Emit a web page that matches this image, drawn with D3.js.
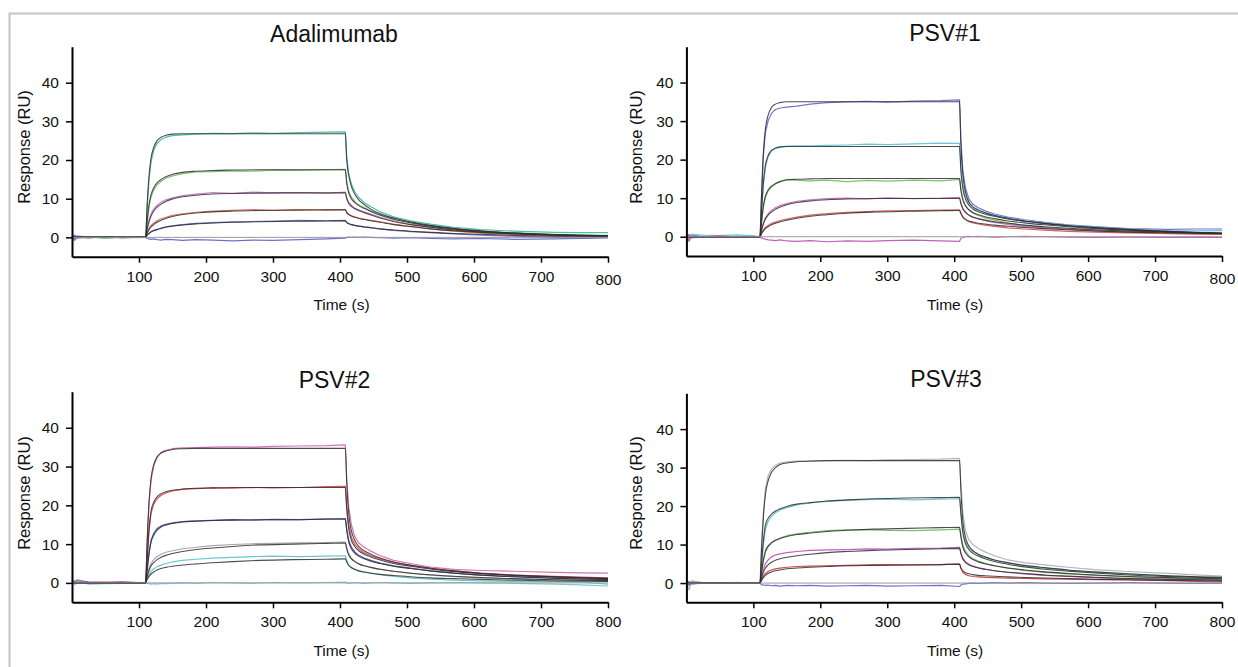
<!DOCTYPE html>
<html><head><meta charset="utf-8">
<script src="https://cdn.jsdelivr.net/npm/d3@7"></script>
<style>
body{margin:0;background:#fff}
svg{display:block}
text{font-family:"Liberation Sans",Arial,Helvetica,sans-serif;fill:#111}
</style>
</head><body>
<svg id="chart" width="1238" height="667"></svg>
<script>
// ---------- data ----------
const fitTimes = [0,110, 112,115,118,122,127,133,140,150,165,185,210,240,280,330,380,408,
  410,413,417,422,428,436,446,460,480,505,535,570,610,660,720,800];
const expTimes = [0,4,8,25,50,75,100,110, 112,115,118,122,127,133,140,150,165,185,210,240,270,300,340,380,408,
  410,413,417,422,428,436,446,460,480,505,535,570,610,660,720,760,800];
const xTickValues = [100,200,300,400,500,600,700,800];
const yTickValues = [0,10,20,30,40];
const panelTitles = ["Adalimumab","PSV#1","PSV#2","PSV#3"];
const xAxisTitle = "Time (s)";
const yAxisTitle = "Response (RU)";

const adaFit = [
 [0,0, 8,16,20.5,23.3,25,25.9,26.4,26.7,26.8,26.8,26.8,26.8,26.8,26.8,26.8,26.8, 20,16,13.2,11.2,9.7,8.5,7.3,6.1,5.0,4.0,3.1,2.3,1.7,1.1,0.7,0.4],
 [0,0, 4,8.5,11,12.8,14.1,15,15.7,16.3,16.8,17.1,17.3,17.4,17.5,17.5,17.5,17.5, 14,11.5,10,9.0,8.2,7.5,6.7,5.7,4.7,3.8,2.9,2.2,1.6,1.1,0.7,0.4],
 [0,0, 2,4,5.5,6.8,7.8,8.6,9.3,9.9,10.5,10.9,11.2,11.35,11.45,11.5,11.5,11.5, 10.0,8.8,8.0,7.4,6.9,6.4,5.8,5.0,4.1,3.3,2.6,1.9,1.4,1.0,0.6,0.4],
 [0,0, 1,2,2.7,3.3,3.9,4.4,4.9,5.4,5.9,6.3,6.6,6.8,6.95,7.05,7.1,7.1, 6.4,5.9,5.5,5.2,4.9,4.6,4.3,3.9,3.3,2.8,2.2,1.7,1.3,0.9,0.6,0.3],
 [0,0, 0.5,1.0,1.4,1.7,2.0,2.3,2.6,2.9,3.2,3.5,3.7,3.9,4.05,4.15,4.25,4.3, 3.8,3.5,3.3,3.1,2.9,2.7,2.5,2.2,1.9,1.6,1.3,1.0,0.8,0.5,0.3,0.2],
 [0,0, 0,0,0,0,0,0,0,0,0,0,0,0,0,0,0,0, 0,0,0,0,0,0,0,0,0,0,0,0,0,0,0,0]
];
const adaExp = [
 [0.3,-0.6,0.4,0.1,-0.2,0.1,0,0, 7,15,19.5,22.5,24.3,25.3,25.9,26.3,26.5,26.7,26.9,26.8,27.0,26.9,27.1,27.2,27.3, 21,16.5,13.8,11.8,10.3,9.0,7.9,6.6,5.3,4.3,3.4,2.6,2.0,1.6,1.3,1.2,1.2],
 [-0.4,0.5,-0.2,0.2,-0.3,0.1,-0.1,0, 3.5,8,10.5,12.3,13.6,14.5,15.3,15.9,16.5,16.9,17.0,17.2,17.1,17.4,17.3,17.5,17.6, 14.5,12,10.4,9.3,8.4,7.7,6.9,5.9,4.9,3.9,3.0,2.3,1.7,1.2,0.8,0.6,0.5],
 [0.2,-0.3,0.1,-0.2,0.2,0,0.1,0, 2.3,4.5,6.1,7.3,8.3,9.1,9.7,10.2,10.8,11.2,11.6,11.4,11.7,11.5,11.6,11.4,11.7, 10.3,9.1,8.3,7.6,7.1,6.6,6.0,5.2,4.3,3.4,2.7,2.0,1.4,0.9,0.5,0.3,0.2],
 [0.1,0.3,-0.2,0.1,0,-0.1,0.1,0, 1.3,2.4,3.1,3.7,4.3,4.8,5.2,5.7,6.1,6.5,6.8,7.0,7.2,7.0,7.2,7.1,7.2, 6.6,6.0,5.6,5.3,5.0,4.7,4.4,4.0,3.4,2.8,2.2,1.6,1.1,0.7,0.3,0.1,0.1],
 [-0.3,0.6,0,-0.1,0.2,-0.1,0,0, 0.6,1.1,1.5,1.8,2.1,2.4,2.7,3.0,3.3,3.6,3.8,4.0,4.1,4.2,4.4,4.3,4.4, 3.9,3.6,3.3,3.1,2.9,2.7,2.5,2.2,1.8,1.5,1.2,0.9,0.6,0.3,0.0,-0.2,-0.1],
 [0.4,-0.8,0.2,0,0.1,-0.1,0,0, -0.3,-0.4,-0.5,-0.4,-0.6,-0.7,-0.5,-0.6,-0.8,-0.6,-0.7,-0.9,-0.7,-0.8,-0.6,-0.4,-0.2, 0,0.1,0,0.1,0,0.1,0,-0.1,-0.2,-0.1,-0.3,-0.4,-0.3,-0.5,-0.4,-0.3,-0.1]
];
const adaColors = ["#4dbfae","#7fc46e","#cf7fcc","#e27a60","#7474cc","#7070cc"];

const psv1Fit = [
 [0,0, 10,22,28,31.5,33.5,34.4,34.8,35,35,35,35,35,35,35,35,35, 24,16,11.5,9.0,7.7,6.9,6.2,5.5,4.8,4.1,3.5,2.9,2.4,1.9,1.4,0.9],
 [0,0, 6,14,18.5,21,22.4,23.0,23.3,23.4,23.4,23.4,23.4,23.4,23.4,23.4,23.4,23.4, 17,12.5,9.8,8.2,7.2,6.5,5.9,5.3,4.6,4.0,3.4,2.8,2.3,1.8,1.3,0.9],
 [0,0, 3.5,8,10.5,12.1,13.1,13.8,14.3,14.7,14.9,15.0,15.1,15.1,15.1,15.1,15.1,15.1, 12,9.5,8.0,7.0,6.3,5.7,5.2,4.7,4.1,3.6,3.1,2.6,2.1,1.7,1.3,0.9],
 [0,0, 1.5,3.3,4.6,5.6,6.4,7.1,7.7,8.3,8.9,9.3,9.6,9.8,9.9,9.9,9.9,9.9, 8.6,7.2,6.3,5.6,5.1,4.7,4.3,3.9,3.5,3.0,2.6,2.2,1.8,1.5,1.2,0.9],
 [0,0, 0.7,1.5,2.1,2.6,3.1,3.5,3.9,4.3,4.8,5.3,5.7,6.1,6.4,6.6,6.75,6.8, 6.0,5.1,4.5,4.1,3.8,3.5,3.3,3.0,2.7,2.4,2.1,1.8,1.5,1.2,1.0,0.8],
 [0,0, 0,0,0,0,0,0,0,0,0,0,0,0,0,0,0,0, 0,0,0,0,0,0,0,0,0,0,0,0,0,0,0,0]
];
const psv1Exp = [
 [0.3,-1.2,0.5,0,-0.2,0.1,0,0, 9,21,27,30,32,33,33.4,33.6,33.9,34.4,34.8,35.0,35.1,34.9,35.2,35.3,35.5, 25,17,12.5,9.8,8.4,7.5,6.7,5.9,5.1,4.4,3.7,3.1,2.6,2.1,1.9,2.0,2.0],
 [0.5,0.2,0.6,0.4,0.3,0.5,0.2,0, 5.5,13.5,18,20.7,22.2,22.9,23.2,23.5,23.6,23.6,23.7,23.8,24.0,23.9,24.1,24.3,24.2, 18,13.5,10.5,8.8,7.8,7.0,6.3,5.6,4.9,4.2,3.6,3.0,2.5,2.0,1.6,1.5,1.6],
 [-0.3,0.4,0,-0.1,0.2,0,0.1,0, 3.2,7.6,10.2,11.8,12.9,13.7,14.4,14.9,14.6,14.5,14.7,14.3,14.6,14.4,14.7,14.5,14.9, 12.5,9.8,8.0,6.9,6.1,5.5,4.9,4.3,3.6,2.9,2.4,1.9,1.6,1.3,1.1,1.0,0.9],
 [0.2,0.5,-0.3,0.1,-0.2,0,0.1,0, 1.8,3.6,4.9,5.9,6.8,7.5,8.1,8.6,9.2,9.6,9.9,10.0,9.8,10.1,9.9,10.0,10.2, 8.8,7.3,6.3,5.6,5.0,4.6,4.2,3.7,3.2,2.7,2.3,1.9,1.5,1.2,0.9,0.8,0.7],
 [0.4,-0.5,0.1,0,0.2,-0.1,0,0, 0.9,1.8,2.4,2.9,3.4,3.8,4.2,4.6,5.1,5.6,6.0,6.3,6.5,6.7,6.8,6.9,7.0, 6.1,5.1,4.4,3.9,3.6,3.3,3.0,2.7,2.3,2.0,1.7,1.4,1.2,1.0,0.8,0.7,0.6],
 [0.1,0.6,-0.2,0,0.1,0,-0.1,0, -0.3,-0.5,-0.6,-0.8,-0.9,-1.0,-0.8,-1.1,-1.2,-1.0,-1.3,-1.1,-1.2,-1.0,-0.9,-1.1,-1.2, -0.4,-0.2,0,0.1,0,0.1,0,-0.1,0,0.1,0,-0.1,-0.2,-0.1,-0.2,-0.1,-0.2]
];
const psv1Colors = ["#7a6fd6","#6cc6d9","#7cc36f","#cc6fc0","#d86060","#c060c0"];

const psv2Fit = [
 [0,0, 10,21,27,30.5,32.5,33.5,34.0,34.4,34.6,34.7,34.7,34.7,34.7,34.7,34.7,34.7, 26,18,13.5,11,9.4,8.3,7.4,6.4,5.4,4.6,3.8,3.1,2.5,2.0,1.6,1.2],
 [0,0, 6,14,18.5,20.8,22.2,23.0,23.5,23.9,24.2,24.4,24.5,24.6,24.6,24.6,24.6,24.6, 19,14,11,9.4,8.3,7.4,6.7,5.9,5.0,4.3,3.6,2.9,2.4,1.9,1.5,1.1],
 [0,0, 3,7.5,10.5,12.3,13.6,14.4,14.9,15.3,15.7,15.9,16.1,16.2,16.3,16.3,16.4,16.4, 13.5,10.5,8.8,7.7,6.9,6.2,5.6,5.0,4.3,3.7,3.1,2.5,2.0,1.6,1.2,0.9],
 [0,0, 1.5,3.2,4.4,5.2,6.0,6.6,7.1,7.6,8.1,8.6,9.0,9.4,9.8,10.0,10.2,10.3, 8.8,7.2,6.2,5.5,4.9,4.4,4.0,3.5,3.0,2.5,2.1,1.7,1.4,1.1,0.8,0.6],
 [0,0, 0.8,1.7,2.3,2.8,3.3,3.7,4.0,4.3,4.6,4.9,5.2,5.5,5.8,6.0,6.1,6.2, 5.4,4.5,3.9,3.5,3.1,2.8,2.5,2.2,1.9,1.6,1.3,1.1,0.9,0.7,0.5,0.4],
 [0,0, 0,0,0,0,0,0,0,0,0,0,0,0,0,0,0,0, 0,0,0,0,0,0,0,0,0,0,0,0,0,0,0,0]
];
const psv2Exp = [
 [1.0,0.4,0.8,0.2,0.1,0.3,0.1,0, 9.5,20.5,26.5,30.2,32.4,33.6,34.2,34.6,34.8,34.9,35.0,35.1,35.0,35.2,35.3,35.4,35.6, 27,19.5,15,12,10.3,9.2,8.2,7.0,5.8,5.0,4.1,3.5,3.2,3.0,2.7,2.6,2.5],
 [0.6,0.2,0.5,0.1,0.2,0.1,0,0, 5.5,13.5,18,20.3,21.7,22.6,23.2,23.7,24.1,24.3,24.5,24.4,24.6,24.5,24.6,24.8,24.9, 20,15,11.8,10,8.8,7.8,7.0,6.2,5.3,4.5,3.8,3.1,2.5,2.0,1.7,1.5,1.3],
 [0.8,0.1,0.4,0.2,0.1,0.2,0,0, 3.3,8,11,12.8,14,14.7,15.1,15.5,15.8,16.0,16.1,16.3,16.2,16.4,16.3,16.5,16.6, 14,11,9.2,8.0,7.1,6.4,5.8,5.1,4.4,3.8,3.1,2.5,2.0,1.6,1.2,1.0,0.9],
 [0.5,-0.2,0.3,0,0.1,0,0,0, 1.8,3.8,5.0,6.0,6.8,7.4,7.9,8.3,8.8,9.2,9.6,9.9,10.1,10.2,10.3,10.4,10.5, 9.2,7.5,6.4,5.6,5.0,4.5,4.0,3.5,3.0,2.5,2.0,1.6,1.3,1.0,0.8,0.6,0.5],
 [0.4,-0.3,0.2,0.1,-0.1,0.1,0,0, 1.1,2.2,3.0,3.6,4.2,4.6,5.0,5.4,5.8,6.1,6.4,6.6,6.8,6.9,6.8,6.9,7.0, 5.8,4.7,4.0,3.5,3.1,2.8,2.5,2.1,1.7,1.3,1.0,0.7,0.5,0.4,0.3,0.2,-0.3],
 [1.5,-0.5,0.3,-0.3,-0.2,-0.1,0,0, -0.1,-0.2,-0.3,-0.2,-0.3,-0.1,-0.2,-0.1,0,-0.1,0.1,0,-0.1,0.1,0,0.1,0.2, 0,-0.1,0,0.1,0,-0.1,0,0.1,0,-0.1,0,0.1,0,-0.1,-0.3,-0.5,-0.8]
];
const psv2Colors = ["#d673b8","#e05555","#5a5ac4","#a8a8a8","#6cc8c8","#7cc8d8"];

const psv3Fit = [
 [0,0, 8,17,23,26.5,28.7,30.0,30.8,31.2,31.5,31.7,31.8,31.8,31.8,31.8,31.8,31.8, 24,16,11.8,9.6,8.4,7.5,6.8,6.0,5.3,4.6,4.0,3.4,2.9,2.4,1.9,1.5],
 [0,0, 4.5,11,15,16.8,17.9,18.7,19.3,19.9,20.5,20.9,21.3,21.6,21.9,22.1,22.2,22.3, 18,13,10.2,8.7,7.7,7.0,6.3,5.6,4.9,4.2,3.6,3.1,2.6,2.1,1.7,1.3],
 [0,0, 2.5,6,8.3,9.6,10.5,11.1,11.6,12.1,12.6,13.0,13.4,13.7,14.0,14.2,14.4,14.5, 12,9.3,7.8,6.8,6.1,5.5,5.0,4.5,3.9,3.4,2.9,2.5,2.1,1.7,1.4,1.1],
 [0,0, 1.2,2.8,3.9,4.7,5.4,5.9,6.3,6.7,7.1,7.5,7.9,8.2,8.5,8.7,8.9,9.0, 7.6,6.2,5.3,4.7,4.3,3.9,3.6,3.2,2.8,2.5,2.1,1.8,1.5,1.2,1.0,0.8],
 [0,0, 0.6,1.4,2.0,2.5,2.9,3.2,3.4,3.7,3.9,4.1,4.3,4.5,4.6,4.7,4.8,4.9, 4.0,3.2,2.7,2.4,2.2,2.0,1.9,1.75,1.6,1.45,1.3,1.15,1.0,0.85,0.7,0.55],
 [0,0, 0,0,0,0,0,0,0,0,0,0,0,0,0,0,0,0, 0,0,0,0,0,0,0,0,0,0,0,0,0,0,0,0]
];
const psv3Exp = [
 [0.3,-1.8,0.6,0.1,-0.1,0.2,0,0, 9,18.5,24.5,27.8,29.6,30.6,31.2,31.5,31.7,31.6,31.8,31.9,31.8,32.0,32.1,32.2,32.4, 26,18,13.5,11.2,10,9.0,8.1,7.1,6.0,5.3,4.7,4.1,3.5,3.0,2.5,2.1,1.8],
 [-0.2,0.5,-0.3,0,0.1,-0.1,0,0, 4,10,14,16,17.3,18.3,19,19.6,20.3,20.8,21.2,21.5,21.7,21.8,21.6,21.8,21.9, 18.5,13.5,10.8,9.2,8.2,7.4,6.7,6.0,5.2,4.5,3.9,3.3,2.8,2.3,1.9,1.6,1.5],
 [0.2,-0.6,0.3,0,0.1,0,-0.1,0, 2.3,5.7,8.0,9.4,10.4,11.1,11.7,12.3,12.8,13.2,13.6,13.8,13.9,13.7,13.6,13.8,14.0, 12.5,9.8,8.2,7.1,6.3,5.7,5.1,4.5,3.9,3.3,2.8,2.4,2.0,1.6,1.3,1.1,1.0],
 [0.1,0.4,-0.2,0.1,0,-0.1,0,0, 1.6,3.6,5.0,6.0,6.8,7.3,7.6,7.9,8.2,8.5,8.6,8.7,8.9,8.8,9.0,9.1,9.3, 7.9,6.5,5.5,4.9,4.4,4.0,3.6,3.2,2.8,2.4,2.0,1.7,1.4,1.1,0.9,0.8,0.7],
 [0,-0.4,0.2,0,0.1,0,0,0, 0.8,1.8,2.5,3.0,3.4,3.7,3.9,4.1,4.3,4.4,4.5,4.6,4.7,4.8,4.7,4.8,5.0, 3.8,2.8,2.2,1.9,1.7,1.6,1.5,1.4,1.3,1.2,1.1,1.0,0.9,0.8,0.6,0.4,0.3],
 [0.2,-0.5,0.1,0,-0.1,0,0,0, -0.4,-0.5,-0.6,-0.5,-0.7,-0.6,-0.8,-0.6,-0.7,-0.6,-0.8,-0.7,-0.6,-0.8,-0.7,-0.6,-0.9, -0.5,-0.3,-0.2,-0.1,0,-0.1,0,0.1,0,0.1,0,-0.1,0,0.1,0,-0.1,0]
];
const psv3Colors = ["#b5b5b5","#6fc5d8","#79bf6f","#c35fc3","#cc4c4c","#7070cc"];

// ---------- layout ----------
const layouts = [
  {x0:72,  x1:608,  yTop:46.7,  yBot:256.7, tx:334, ty:41.5, ylx:24,  yly:147, xlx:341.5, xly:310, lastDy:3},
  {x0:686.4,x1:1222, yTop:46.7, yBot:256,   tx:945, ty:40.7, ylx:636, yly:147, xlx:955,   xly:310, lastDy:3},
  {x0:72,  x1:608,  yTop:391.7, yBot:602.3, tx:334.5,ty:388, ylx:24,  yly:493, xlx:341.5, xly:656, lastDy:0},
  {x0:686.4,x1:1222, yTop:393.3, yBot:602.3, tx:946, ty:386.5,ylx:636, yly:493, xlx:955,   xly:656, lastDy:0}
];
const panelData = [
  {fit:adaFit, exp:adaExp, colors:adaColors},
  {fit:psv1Fit, exp:psv1Exp, colors:psv1Colors},
  {fit:psv2Fit, exp:psv2Exp, colors:psv2Colors},
  {fit:psv3Fit, exp:psv3Exp, colors:psv3Colors}
];

const svg = d3.select("#chart");
svg.append("rect").attr("width",1238).attr("height",667).attr("fill","#fff");
// outer frame
svg.append("path").attr("d","M9.5,667 V13.5 H1238").attr("fill","none")
  .attr("stroke","#c4c4c4").attr("stroke-width",2);

panelData.forEach((pd,i)=>{
  const L = layouts[i];
  const x = d3.scaleLinear().domain([0,800]).range([L.x0,L.x1]);
  const y = d3.scaleLinear().domain([-5,49.3]).range([L.yBot,L.yTop]);
  const g = svg.append("g");

  const expLine = d3.line().x((d,k)=>x(expTimes[k])).y(d=>y(d)).curve(d3.curveLinear);
  const fitLine = d3.line().x((d,k)=>x(fitTimes[k])).y(d=>y(d)).curve(d3.curveMonotoneX);

  // experimental traces
  pd.exp.forEach((arr,j)=>{
    g.append("path").attr("d",expLine(arr)).attr("fill","none")
     .attr("stroke",pd.colors[j]).attr("stroke-width",1.2).attr("stroke-linejoin","round");
  });
  // fitted curves
  pd.fit.forEach((arr,j)=>{
    const isZero = j===pd.fit.length-1;
    g.append("path").attr("d",fitLine(arr)).attr("fill","none")
     .attr("stroke",isZero?"#9a9a9a":"#2e2e2e").attr("stroke-width",isZero?1:1.1)
     .attr("stroke-opacity",isZero?1:0.85);
  });

  // axes
  const xAxis = d3.axisBottom(x).tickValues(xTickValues).tickSize(6).tickSizeOuter(0).tickPadding(8);
  const gx = g.append("g").attr("transform",`translate(0,${L.yBot})`).call(xAxis);
  gx.select(".domain").attr("stroke","#000").attr("stroke-width",2);
  gx.selectAll(".tick line").attr("stroke","#000").attr("stroke-width",1.5);
  gx.selectAll(".tick text").attr("font-size",15.5).attr("fill","#111")
    .attr("font-family",'"Liberation Sans",Arial,sans-serif')
    .attr("transform",d=>d===800?`translate(0,${L.lastDy})`:null);

  const yAxis = d3.axisLeft(y).tickValues(yTickValues).tickSize(6).tickSizeOuter(0).tickPadding(7);
  const gy = g.append("g").attr("transform",`translate(${L.x0},0)`).call(yAxis);
  gy.select(".domain").attr("stroke","#000").attr("stroke-width",2);
  gy.selectAll(".tick line").attr("stroke","#000").attr("stroke-width",1.5);
  gy.selectAll(".tick text").attr("font-size",15.5).attr("fill","#111")
    .attr("font-family",'"Liberation Sans",Arial,sans-serif');

  // titles
  g.append("text").attr("x",L.tx).attr("y",L.ty).attr("text-anchor","middle")
    .attr("font-size",23).text(panelTitles[i]);
  g.append("text").attr("x",L.xlx).attr("y",L.xly).attr("text-anchor","middle")
    .attr("font-size",15.5).text(xAxisTitle);
  g.append("text").attr("transform",`translate(${L.ylx},${L.yly}) rotate(-90)`)
    .attr("text-anchor","middle").attr("dy","0.35em").attr("font-size",16.5).text(yAxisTitle);
});
</script>
</body></html>
